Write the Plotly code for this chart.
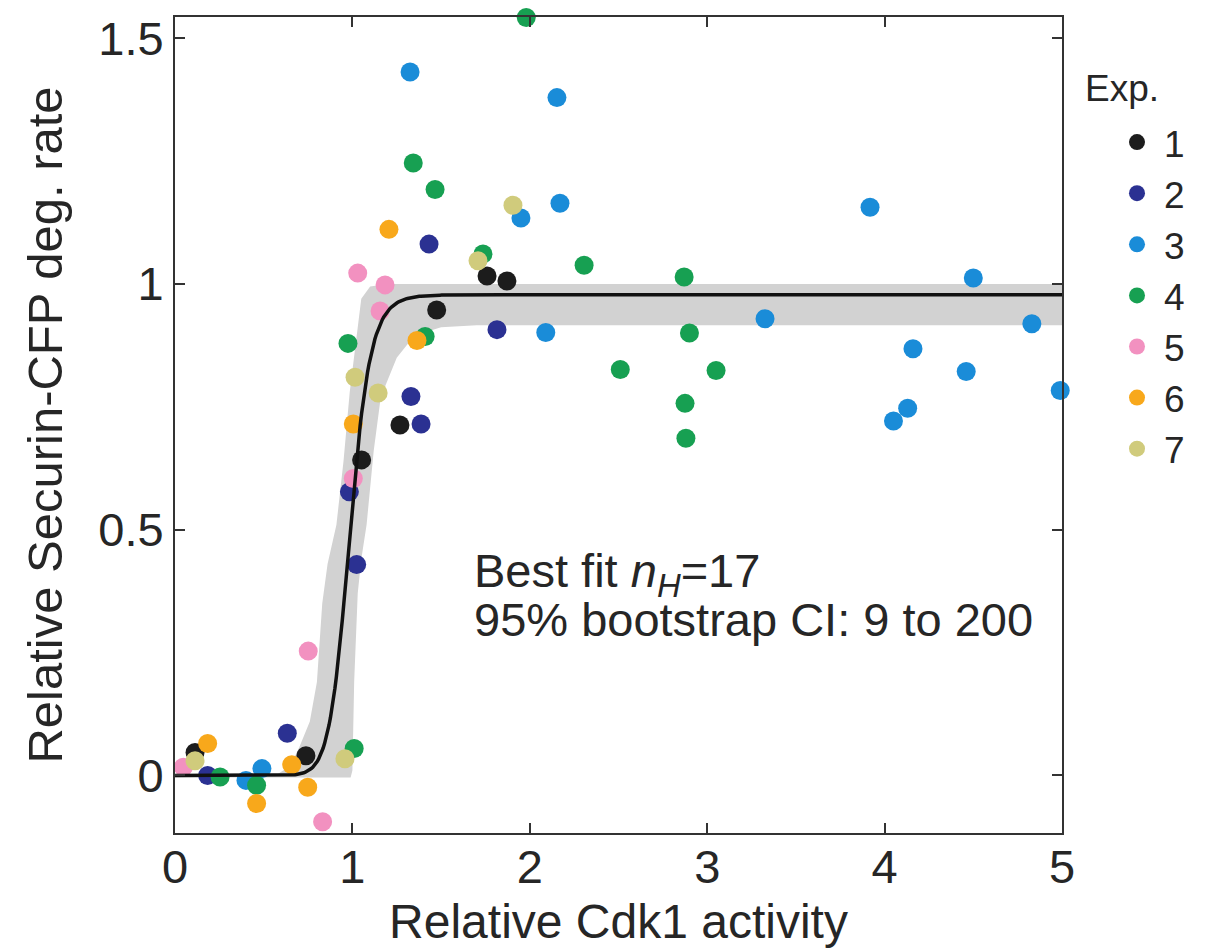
import numpy as np
import plotly.graph_objects as go

# ---- data ----
exp_names = ["1", "2", "3", "4", "5", "6", "7"]
exp_colors = ["#1c1c1c", "#2b3192", "#1a8cd8", "#17a052", "#f291c0", "#f8a81b", "#d0cb7c"]

exp1_x = [0.113, 0.738, 1.052, 1.268, 1.475, 1.759, 1.871]
exp1_y = [0.047, 0.040, 0.642, 0.713, 0.947, 1.016, 1.006]

exp2_x = [0.184, 0.633, 0.983, 1.024, 1.330, 1.387, 1.432, 1.815]
exp2_y = [0.000, 0.086, 0.577, 0.429, 0.771, 0.715, 1.081, 0.907]

exp3_x = [0.40, 0.49, 1.325, 2.153, 2.17, 1.95, 2.09, 3.326, 3.918, 4.50, 4.83, 4.16, 4.46, 4.13, 4.05, 4.99]
exp3_y = [-0.010, 0.014, 1.431, 1.379, 1.164, 1.134, 0.901, 0.929, 1.156, 1.012, 0.919, 0.868, 0.822, 0.747, 0.721, 0.783]

exp4_x = [0.254, 0.46, 1.01, 0.975, 1.343, 1.466, 1.41, 1.98, 1.736, 2.306, 2.87, 2.90, 2.51, 3.05, 2.875, 2.88]
exp4_y = [-0.003, -0.020, 0.055, 0.879, 1.246, 1.192, 0.893, 1.542, 1.061, 1.038, 1.014, 0.900, 0.826, 0.824, 0.757, 0.686]

exp5_x = [0.047, 0.751, 0.832, 1.005, 1.03, 1.184, 1.156]
exp5_y = [0.017, 0.253, -0.094, 0.604, 1.022, 0.998, 0.945]

exp6_x = [0.184, 0.658, 0.748, 0.46, 1.005, 1.364, 1.206]
exp6_y = [0.065, 0.022, -0.024, -0.057, 0.715, 0.885, 1.111]

exp7_x = [0.113, 0.958, 1.015, 1.145, 1.708, 1.905]
exp7_y = [0.030, 0.034, 0.810, 0.778, 1.047, 1.160]

# 95% bootstrap band (edges)
band_up_x = [0, 0.58, 0.65, 0.70, 0.76, 0.80, 0.83, 0.86, 0.91, 0.95, 0.985, 1.025, 1.05, 1.10, 1.2, 5]
band_up_y = [0.003, 0.003, 0.02, 0.057, 0.11, 0.19, 0.35, 0.43, 0.51, 0.64, 0.78, 0.90, 0.97, 0.995, 1.0, 1.0]
band_lo_x = [0, 0.99, 1.0, 1.01, 1.03, 1.05, 1.08, 1.12, 1.16, 1.25, 1.35, 1.50, 1.7, 5]
band_lo_y = [-0.004, -0.004, 0.01, 0.19, 0.37, 0.44, 0.51, 0.66, 0.77, 0.85, 0.895, 0.912, 0.916, 0.916]

# best-fit Hill curve parameters
fit_n = 17
fit_K = 0.985
fit_ymax = 0.978

x_ticks = [0, 1, 2, 3, 4, 5]
y_ticks = [0, 0.5, 1, 1.5]
y_tick_labels = ["0", "0.5", "1", "1.5"]

FONT = "Liberation Sans, Arial, sans-serif"
TXT = "#262626"
AX = "#333333"

fig = go.Figure()

# band
fig.add_trace(go.Scatter(
    x=band_up_x + band_lo_x[::-1], y=band_up_y + band_lo_y[::-1],
    fill="toself", fillcolor="#d2d2d2", line=dict(width=0, color="#d2d2d2"),
    mode="lines", hoverinfo="skip", showlegend=False))

all_x = [exp1_x, exp2_x, exp3_x, exp4_x, exp5_x, exp6_x, exp7_x]
all_y = [exp1_y, exp2_y, exp3_y, exp4_y, exp5_y, exp6_y, exp7_y]
for name, col, xs, ys in zip(exp_names, exp_colors, all_x, all_y):
    fig.add_trace(go.Scatter(
        x=xs, y=ys, mode="markers", name=name,
        marker=dict(color=col, size=19, line=dict(width=0)),
        cliponaxis=False))

xf = np.linspace(0, 5, 600)
yf = fit_ymax * (xf / fit_K) ** fit_n / (1 + (xf / fit_K) ** fit_n)
fig.add_trace(go.Scatter(x=xf, y=yf, mode="lines",
                         line=dict(color="#111111", width=3.5),
                         hoverinfo="skip", showlegend=False))

fig.add_annotation(x=1.674, y=0.41, xref="x", yref="y", xanchor="left", yanchor="middle",
                   text="Best fit <i>n</i><sub><i>H</i></sub>=17", showarrow=False,
                   font=dict(family=FONT, size=47, color=TXT))
fig.add_annotation(x=1.674, y=0.318, xref="x", yref="y", xanchor="left", yanchor="middle",
                   text="95% bootstrap CI: 9 to 200", showarrow=False,
                   font=dict(family=FONT, size=47, color=TXT))

# legend heading
fig.add_annotation(x=(1083 - 175) / 887, y=(833 - 85) / 820, xref="paper", yref="paper",
                   xanchor="left", yanchor="middle", text="Exp.", showarrow=False,
                   font=dict(family=FONT, size=37, color=TXT))

axis_common = dict(showgrid=False, zeroline=False, showline=True, linecolor=AX, linewidth=2,
                   mirror="ticks", ticks="inside", ticklen=10, tickwidth=2, tickcolor=AX,
                   tickfont=dict(family=FONT, size=47, color=TXT))

fig.update_xaxes(range=[0, 5], tickvals=x_ticks,
                 title=dict(text="Relative Cdk1 activity", font=dict(family=FONT, size=48, color=TXT), standoff=12),
                 ticklabelstandoff=-8,
                 **axis_common)
fig.update_yaxes(range=[-0.117, 1.543], tickvals=y_ticks, ticktext=y_tick_labels,
                 title=dict(text="Relative Securin-CFP deg. rate", font=dict(family=FONT, size=49, color=TXT), standoff=20),
                 **axis_common)

fig.update_layout(
    width=1209, height=951,
    margin=dict(l=175, r=147, t=13, b=118),
    plot_bgcolor="white", paper_bgcolor="white",
    font=dict(family=FONT, color=TXT),
    legend=dict(x=(1110 - 175) / 887, y=(833 - 108) / 820, xanchor="left", yanchor="top",
                font=dict(family=FONT, size=37, color=TXT),
                itemwidth=44, tracegroupgap=0, bgcolor="rgba(0,0,0,0)"),
)

fig.write_html("out.html")
